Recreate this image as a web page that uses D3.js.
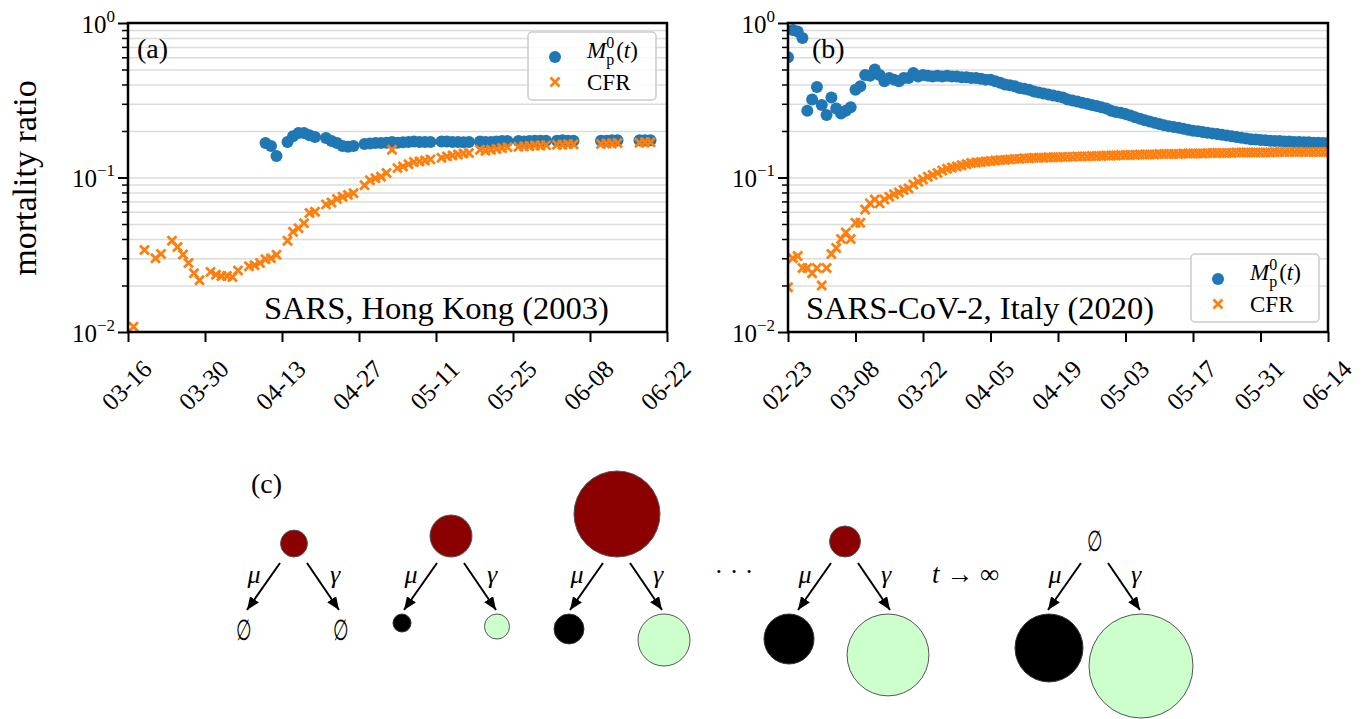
<!DOCTYPE html>
<html lang="en">
<head>
<meta charset="UTF-8">
<title>Mortality ratio: SARS Hong Kong and SARS-CoV-2 Italy</title>
<script src="https://d3js.org/d3.v7.min.js"></script>
<style>
  body { margin: 0; background: #fff; }
  svg { display: block; }
  svg text { font-family: "Liberation Serif", "DejaVu Serif", serif; }
</style>
</head>
<body>
<svg id="chart" width="1366" height="719" font-family="Liberation Serif, DejaVu Serif, serif"></svg>
<script>
// ---------- data: panel (a) SARS, Hong Kong 2003 ----------
const hkYear = "2003";
const hkStart = "2003-03-16";
const hkTicks = ["03-16", "03-30", "04-13", "04-27", "05-11", "05-25", "06-08", "06-22"];
// days after 03-16 that have a report
const hkDay = [1, 3, 5, 6, 8, 9, 10, 11, 12, 13,
  15, 16, 17, 18, 19, 20, 22, 23, 24, 25,
  26, 27, 29, 30, 31, 32, 33, 34, 36, 37,
  38, 39, 40, 41, 43, 44, 45, 46, 47, 48,
  49, 50, 51, 52, 53, 54, 55, 57, 58, 59,
  60, 61, 62, 64, 65, 66, 67, 68, 69, 71,
  72, 73, 74, 75, 76, 78, 79, 80, 81, 86,
  87, 88, 89, 93, 94, 95];
const hkCFR = [0.0108, 0.034, 0.030, 0.032, 0.039, 0.0355, 0.0317, 0.028, 0.024, 0.0216,
  0.0245, 0.0235, 0.023, 0.023, 0.0227, 0.025, 0.0266, 0.027, 0.028, 0.0296,
  0.030, 0.0316, 0.039, 0.0446, 0.047, 0.0506, 0.059, 0.060, 0.067, 0.069,
  0.0725, 0.075, 0.077, 0.079, 0.089, 0.096, 0.099, 0.101, 0.107, 0.151,
  0.115, 0.118, 0.122, 0.126, 0.127, 0.129, 0.131, 0.134, 0.137, 0.139,
  0.141, 0.143, 0.144, 0.151, 0.149, 0.151, 0.153, 0.155, 0.157, 0.158,
  0.159, 0.160, 0.161, 0.161, 0.162, 0.163, 0.163, 0.164, 0.164, 0.165,
  0.166, 0.166, 0.167, 0.168, 0.169, 0.169];
const hkMp = [null, null, null, null, null, null, null, null, null, null,
  null, null, null, null, null, null, null, null, null, 0.167,
  0.160, 0.138, 0.170, 0.185, 0.194, 0.194, 0.188, 0.183, 0.180, 0.172,
  0.167, 0.160, 0.158, 0.160, 0.165, 0.166, 0.167, 0.167, 0.168, 0.170,
  0.168, 0.169, 0.170, 0.171, 0.170, 0.170, 0.170, 0.171, 0.171, 0.170,
  0.170, 0.169, 0.170, 0.171, 0.170, 0.170, 0.171, 0.172, 0.172, 0.172,
  0.171, 0.172, 0.173, 0.173, 0.173, 0.173, 0.174, 0.173, 0.173, 0.173,
  0.173, 0.174, 0.174, 0.174, 0.174, 0.174];

// ---------- data: panel (b) SARS-CoV-2, Italy 2020 (one value per day from 02-23) ----------
const itYear = "2020";
const itStart = "2020-02-23";
const itTicks = ["02-23", "03-08", "03-22", "04-05", "04-19", "05-03", "05-17", "05-31", "06-14"];
const itMp = [0.60, 0.90, 0.88, 0.80, 0.27, 0.32, 0.385, 0.295, 0.254, 0.33,
  0.28, 0.26, 0.27, 0.285, 0.37, 0.39, 0.46, 0.455, 0.50, 0.46,
  0.42, 0.44, 0.43, 0.42, 0.44, 0.44, 0.475, 0.45, 0.46, 0.455,
  0.45, 0.455, 0.45, 0.455, 0.45, 0.45, 0.445, 0.445, 0.44, 0.44,
  0.435, 0.43, 0.43, 0.42, 0.41, 0.40, 0.395, 0.39, 0.38, 0.375,
  0.37, 0.36, 0.355, 0.35, 0.345, 0.34, 0.335, 0.33, 0.32, 0.315,
  0.31, 0.305, 0.30, 0.295, 0.29, 0.285, 0.28, 0.27, 0.265, 0.262,
  0.258, 0.252, 0.245, 0.24, 0.235, 0.23, 0.226, 0.222, 0.218, 0.215,
  0.212, 0.21, 0.207, 0.204, 0.201, 0.199, 0.197, 0.195, 0.193, 0.191,
  0.189, 0.187, 0.185, 0.183, 0.181, 0.179, 0.177, 0.176, 0.175, 0.174,
  0.173, 0.172, 0.172, 0.171, 0.171, 0.170, 0.170, 0.169, 0.169, 0.168,
  0.168, 0.167, 0.167];
const itCFR = [0.0195, 0.030, 0.031, 0.026, 0.026, 0.024, 0.026, 0.020, 0.026, 0.032,
  0.035, 0.040, 0.044, 0.040, 0.051, 0.051, 0.062, 0.068, 0.072, 0.068,
  0.072, 0.075, 0.078, 0.080, 0.083, 0.085, 0.090, 0.094, 0.097, 0.101,
  0.104, 0.107, 0.111, 0.114, 0.116, 0.118, 0.120, 0.122, 0.124, 0.125,
  0.126, 0.127, 0.128, 0.129, 0.130, 0.130, 0.131, 0.132, 0.132, 0.133,
  0.133, 0.134, 0.134, 0.134, 0.135, 0.135, 0.135, 0.136, 0.136, 0.136,
  0.137, 0.137, 0.137, 0.138, 0.138, 0.138, 0.139, 0.139, 0.139, 0.140,
  0.140, 0.140, 0.140, 0.141, 0.141, 0.141, 0.141, 0.142, 0.142, 0.142,
  0.142, 0.142, 0.143, 0.143, 0.143, 0.143, 0.143, 0.144, 0.144, 0.144,
  0.144, 0.144, 0.144, 0.145, 0.145, 0.145, 0.145, 0.145, 0.145, 0.145,
  0.145, 0.146, 0.146, 0.146, 0.146, 0.146, 0.146, 0.146, 0.146, 0.146,
  0.146, 0.146, 0.146];

const yMajor = [1, 0.1, 0.01];
const yExponent = ["0", "\u22121", "\u22122"];

// ---------- data: panel (c) compartment sizes (fraction of final size) ----------
const stageInfected = [0.067, 0.163, 0.684, 0.089, null];   // null = empty set
const stageDead = [null, 0.03, 0.083, 0.231, 0.427];
const stageRecovered = [null, 0.058, 0.25, 0.62, 1.0];

const blue = "#1f77b4", orange = "#ff7f0e";
const svg = d3.select("#chart");
const parse = d3.timeParse("%Y-%m-%d");
const fmt = d3.timeFormat("%m-%d");

// d3 axes put sans-serif 10px on their group, drop it so the svg font is used
function plain(g) {
  g.attr("font-family", null).attr("font-size", null);
  g.select(".domain").remove();
  return g;
}

function drawPanel(p) {
  const start = parse(p.start);
  const ticks = p.ticks.map(t => parse(p.year + "-" + t));
  const x = d3.scaleTime().domain([ticks[0], ticks[ticks.length - 1]]).range([p.left, p.right]);
  const y = d3.scaleLog().domain([0.01, 1]).range([p.bottom, p.top]);
  const w = p.right - p.left;

  svg.append("clipPath").attr("id", "clip-" + p.id)
    .append("rect").attr("x", p.left).attr("y", p.top).attr("width", w).attr("height", p.bottom - p.top);

  // grid lines at every log tick
  const grid = plain(svg.append("g").attr("transform", "translate(" + p.left + ",0)")
    .call(d3.axisLeft(y).tickValues(y.ticks()).tickSize(-w).tickFormat("")));
  grid.selectAll("line").attr("stroke", "#dcdcdc").attr("stroke-width", 1.6);

  // minor ticks
  const minor = plain(svg.append("g").attr("transform", "translate(" + p.left + ",0)")
    .call(d3.axisLeft(y).tickValues(y.ticks().filter(v => yMajor.indexOf(v) < 0)).tickSize(6).tickFormat("")));
  minor.selectAll("line").attr("stroke", "#000").attr("stroke-width", 1.5);

  // major ticks with 10^k labels
  const major = plain(svg.append("g").attr("transform", "translate(" + p.left + ",0)")
    .call(d3.axisLeft(y).tickValues(yMajor).tickSize(10).tickFormat("")));
  major.selectAll("line").attr("stroke", "#000").attr("stroke-width", 2);
  major.selectAll("text").each(function (d, i) {
    const t = d3.select(this).attr("font-size", 25).attr("fill", "#000").attr("dy", "0.36em").attr("x", -13);
    t.text("10");
    t.append("tspan").attr("font-size", 17).attr("dy", -11).text(yExponent[i]);
  });

  // x axis
  const xa = plain(svg.append("g").attr("transform", "translate(0," + p.bottom + ")")
    .call(d3.axisBottom(x).tickValues(ticks).tickSize(10).tickFormat(fmt)));
  xa.selectAll("line").attr("stroke", "#000").attr("stroke-width", 2);
  xa.selectAll("text")
    .attr("font-size", 25).attr("fill", "#000")
    .attr("text-anchor", "middle").attr("x", 0).attr("y", 0).attr("dy", "0.35em")
    .attr("transform", "translate(-2,53) rotate(-45)");

  // markers
  const pts = p.days.map((d, i) => ({ date: d3.timeDay.offset(start, d), mp: p.mp[i], cfr: p.cfr[i] }));
  const marks = svg.append("g").attr("clip-path", "url(#clip-" + p.id + ")");
  marks.selectAll("circle").data(pts.filter(d => d.mp != null)).join("circle")
    .attr("cx", d => x(d.date)).attr("cy", d => y(d.mp)).attr("r", 6).attr("fill", blue);
  marks.selectAll("path").data(pts.filter(d => d.cfr != null)).join("path")
    .attr("transform", d => "translate(" + x(d.date) + "," + y(d.cfr) + ")")
    .attr("d", "M-4.5,-4.5L4.5,4.5M-4.5,4.5L4.5,-4.5")
    .attr("stroke", orange).attr("stroke-width", 2.8).attr("fill", "none");

  // frame
  svg.append("rect").attr("x", p.left).attr("y", p.top).attr("width", w).attr("height", p.bottom - p.top)
    .attr("fill", "none").attr("stroke", "#000").attr("stroke-width", 2.5);

  // panel letter and title
  svg.append("text").attr("x", p.left + p.letterDx).attr("y", p.top + 35).attr("font-size", 28).text(p.letter);
  svg.append("text").attr("x", p.left + p.titleDx).attr("y", p.bottom - 13).attr("font-size", 32.5).text(p.title);

  // legend
  const lx = p.legend[0], ly = p.legend[1];
  const leg = svg.append("g");
  leg.append("rect").attr("x", lx).attr("y", ly).attr("width", 128).attr("height", 68).attr("rx", 4)
    .attr("fill", "#fff").attr("fill-opacity", 0.85).attr("stroke", "#cccccc").attr("stroke-width", 1.5);
  leg.append("circle").attr("cx", lx + 27).attr("cy", ly + 25).attr("r", 6).attr("fill", blue);
  leg.append("path").attr("transform", "translate(" + (lx + 27) + "," + (ly + 50) + ")")
    .attr("d", "M-4.5,-4.5L4.5,4.5M-4.5,4.5L4.5,-4.5")
    .attr("stroke", orange).attr("stroke-width", 2.8);
  const t = leg.append("text").attr("x", lx + 59).attr("y", ly + 26).attr("font-size", 23);
  t.append("tspan").attr("font-style", "italic").text("M");
  t.append("tspan").attr("font-size", 16).attr("dy", 7).text("p");
  t.append("tspan").attr("font-size", 16).attr("dx", -8).attr("dy", -17).text("0");
  t.append("tspan").attr("dy", 10).attr("dx", 2).text("(");
  t.append("tspan").attr("font-style", "italic").text("t");
  t.append("tspan").text(")");
  leg.append("text").attr("x", lx + 59).attr("y", ly + 58).attr("font-size", 23).text("CFR");
}

drawPanel({ id: "a", year: hkYear, start: hkStart, ticks: hkTicks, days: hkDay, mp: hkMp, cfr: hkCFR,
  left: 128, right: 667, top: 23, bottom: 332, letter: "(a)", letterDx: 9,
  title: "SARS, Hong Kong (2003)", titleDx: 136, legend: [528, 32] });
drawPanel({ id: "b", year: itYear, start: itStart, ticks: itTicks, days: itMp.map((v, i) => i), mp: itMp, cfr: itCFR,
  left: 788, right: 1328, top: 23, bottom: 332, letter: "(b)", letterDx: 24,
  title: "SARS-CoV-2, Italy (2020)", titleDx: 18, legend: [1191, 254] });

// y axis title
svg.append("text").attr("transform", "translate(36,178) rotate(-90)")
  .attr("text-anchor", "middle").attr("font-size", 34).text("mortality ratio");

// ---------- panel (c) schematic ----------
const stageX = [294, 451, 617, 845, 1095];
const deadDx = [-50, -49, -48, -56, -46];
const recDx = [47, 46, 47, 43, 46];
const r = d3.scaleSqrt().domain([0, 1]).range([0, 52]);
const topY = 557, botY = 614;

svg.append("defs").append("marker").attr("id", "head")
  .attr("viewBox", "0 0 12 10").attr("refX", 12).attr("refY", 5)
  .attr("markerWidth", 13).attr("markerHeight", 11).attr("markerUnits", "userSpaceOnUse")
  .attr("orient", "auto")
  .append("path").attr("d", "M0,0L12,5L0,10Z").attr("fill", "#000");

svg.append("text").attr("x", 251).attr("y", 493).attr("font-size", 28).text("(c)");

const c = svg.append("g");
function emptySet(x, y) {
  // tall, narrow empty-set sign like the LaTeX glyph
  c.append("text").attr("transform", "translate(" + x + "," + y + ") scale(0.8,1.3)")
    .attr("text-anchor", "middle").style("font-family", "DejaVu Serif").attr("font-size", 22)
    .text("\u2205");
}
stageX.forEach((sx, i) => {
  if (stageInfected[i] == null) emptySet(sx, 551);
  else c.append("circle").attr("cx", sx).attr("cy", topY - r(stageInfected[i])).attr("r", r(stageInfected[i]))
    .attr("fill", "#8b0000").attr("stroke", "#555").attr("stroke-width", 1);

  c.append("line").attr("x1", sx - 14).attr("y1", 563).attr("x2", sx - 47).attr("y2", 610)
    .attr("stroke", "#000").attr("stroke-width", 2).attr("marker-end", "url(#head)");
  c.append("line").attr("x1", sx + 13).attr("y1", 563).attr("x2", sx + 45).attr("y2", 610)
    .attr("stroke", "#000").attr("stroke-width", 2).attr("marker-end", "url(#head)");
  c.append("text").attr("x", sx - 40).attr("y", 583).attr("text-anchor", "middle")
    .attr("font-style", "italic").attr("font-size", 26).text("\u03bc");
  c.append("text").attr("x", sx + 41).attr("y", 583).attr("text-anchor", "middle")
    .attr("font-style", "italic").attr("font-size", 26).text("\u03b3");

  if (stageDead[i] == null) emptySet(sx + deadDx[i], 640);
  else c.append("circle").attr("cx", sx + deadDx[i]).attr("cy", botY + r(stageDead[i])).attr("r", r(stageDead[i]))
    .attr("fill", "#000").attr("stroke", "#333").attr("stroke-width", 1);
  if (stageRecovered[i] == null) emptySet(sx + recDx[i], 640);
  else c.append("circle").attr("cx", sx + recDx[i]).attr("cy", botY + r(stageRecovered[i])).attr("r", r(stageRecovered[i]))
    .attr("fill", "#ccffcc").attr("stroke", "#555").attr("stroke-width", 1);
});

c.append("text").attr("x", 734).attr("y", 580).attr("text-anchor", "middle").attr("font-size", 26).text("\u00b7  \u00b7  \u00b7");
const inf = c.append("text").attr("x", 932).attr("y", 583).attr("font-size", 27);
inf.append("tspan").attr("font-style", "italic").text("t");
inf.append("tspan").text(" \u2192 \u221e");
</script>
</body>
</html>
